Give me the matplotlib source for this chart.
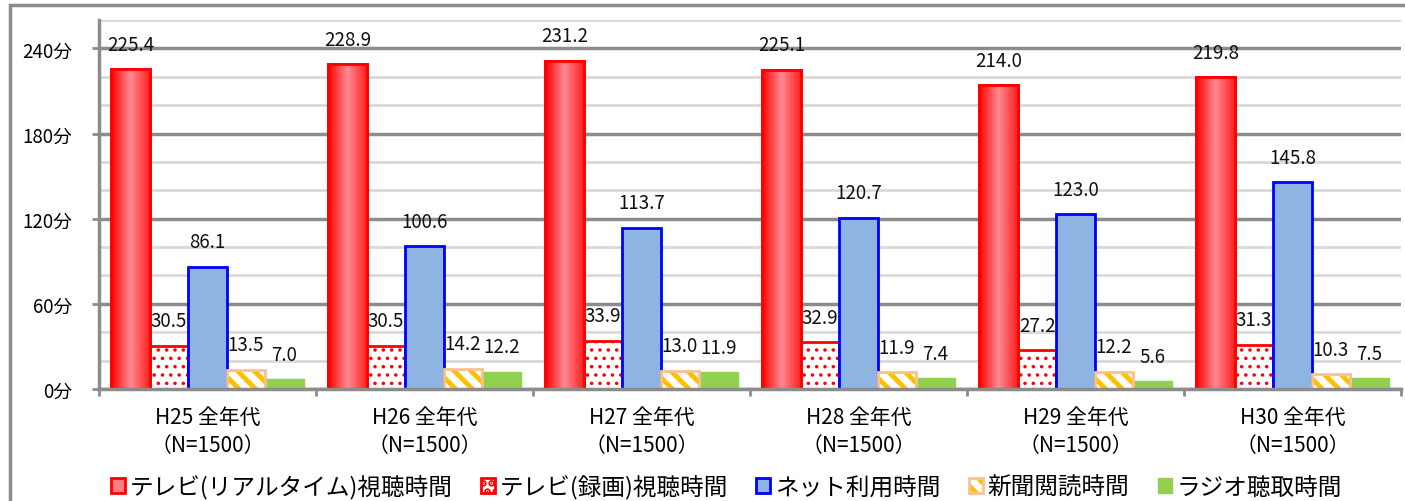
import numpy as np
import matplotlib
matplotlib.use("Agg")
import matplotlib.pyplot as plt
from matplotlib.patches import Patch, Rectangle
from matplotlib.colors import LinearSegmentedColormap
from matplotlib.legend_handler import HandlerTuple

plt.rcParams["font.family"] = ["Noto Sans CJK JP", "DejaVu Sans"]
plt.rcParams["hatch.linewidth"] = 3.5

groups = ["H25 全年代", "H26 全年代", "H27 全年代", "H28 全年代", "H29 全年代", "H30 全年代"]
sample = "（N=1500）"
tv_real = [225.4, 228.9, 231.2, 225.1, 214.0, 219.8]
tv_rec = [30.5, 30.5, 33.9, 32.9, 27.2, 31.3]
net = [86.1, 100.6, 113.7, 120.7, 123.0, 145.8]
news = [13.5, 14.2, 13.0, 11.9, 12.2, 10.3]
radio = [7.0, 12.2, 11.9, 7.4, 5.6, 7.5]
series_names = ["テレビ(リアルタイム)視聴時間", "テレビ(録画)視聴時間", "ネット利用時間",
                "新聞閲読時間", "ラジオ聴取時間"]

gray = "#8C8C8C"
fig = plt.figure(figsize=(14.05, 5.02), dpi=100)
ax = fig.add_axes([99 / 1405, 1 - 390 / 502, (1401 - 99) / 1405, (390 - 21) / 502])

x = np.arange(len(groups))
w = 0.177

# bars
b_real = ax.bar(x - 2 * w, tv_real, w, facecolor="#FF7C80", edgecolor="#FF0000", lw=2, zorder=3)
with plt.rc_context({"hatch.linewidth": 1.3}):
    b_rec = ax.bar(x - w, tv_rec, w, facecolor="white", edgecolor="#FF0000", hatch="..", lw=2, zorder=3)
    rec_handle = Patch(facecolor="white", edgecolor="#FF0000", hatch="..", lw=2)
b_net = ax.bar(x, net, w, facecolor="#8EB4E3", edgecolor="#0000FF", lw=2, zorder=3)
b_news = ax.bar(x + w, news, w, facecolor="white", edgecolor="#FFC000", hatch="\\\\", lw=0, zorder=3)
ax.bar(x + w, news, w, fill=False, edgecolor="#FAC090", lw=2, zorder=4)
b_radio = ax.bar(x + 2 * w, radio, w, facecolor="#92D050", edgecolor="#92D050", lw=1, zorder=3)

# gradient on red bars
cmap = LinearSegmentedColormap.from_list("tvred", ["#FF0000", "#FF8A93", "#FF2020"])
grad = np.linspace(0, 1, 100).reshape(1, -1)
for p in b_real:
    im = ax.imshow(grad, cmap=cmap, aspect="auto", zorder=3.5,
                   extent=(p.get_x(), p.get_x() + p.get_width(), 0, p.get_height()))
    im.set_clip_path(p)
    ax.add_patch(Rectangle((p.get_x(), 0), p.get_width(), p.get_height(),
                           fill=False, edgecolor="#FF0000", lw=2, zorder=4))

# value labels
for bars in [b_real, b_rec, b_net, b_news, b_radio]:
    for p in bars:
        ax.annotate(f"{p.get_height():.1f}", (p.get_x() + p.get_width() / 2, p.get_height()),
                    xytext=(0, 14), textcoords="offset points", ha="center", va="baseline",
                    fontsize=13.5, color="#111111", zorder=6)

ax.set_xlim(-0.5, len(groups) - 0.5)
ax.set_ylim(0, 260)

ax.set_yticks(range(0, 241, 60))
ax.set_yticklabels([f"{v}分" for v in range(0, 241, 60)], fontsize=13.5)
ax.set_yticks(range(0, 261, 20), minor=True)
ax.tick_params(axis="y", which="major", length=5, width=2, color=gray, pad=14)
ax.tick_params(axis="y", which="minor", length=0)
ax.grid(axis="y", which="minor", color="#D9D9D9", lw=2, zorder=0)
ax.grid(axis="y", which="major", color=gray, lw=2.5, zorder=1)

ax.set_xticks(x)
ax.set_xticklabels([f"{g}\n{sample}" for g in groups], fontsize=15, linespacing=1.4)
ax.set_xticks(np.arange(-0.5, len(groups)), minor=True)
ax.tick_params(axis="x", which="major", length=0, pad=12)
ax.tick_params(axis="x", which="minor", length=5, width=2, color=gray)

for s in ["top", "right"]:
    ax.spines[s].set_visible(False)
for s in ["left", "bottom"]:
    ax.spines[s].set_color(gray)
    ax.spines[s].set_linewidth(2.5)
ax.spines["bottom"].set_zorder(5)

# legend
handles = [
    Patch(facecolor="#FF7C80", edgecolor="#FF0000", lw=2),
    rec_handle,
    Patch(facecolor="#8EB4E3", edgecolor="#0000FF", lw=2),
    (Patch(facecolor="white", edgecolor="#FFC000", hatch="\\\\", lw=0),
     Patch(fill=False, edgecolor="#FAC090", lw=2)),
    Patch(facecolor="#92D050", edgecolor="#92D050"),
]
fig.legend(handles, series_names, loc="center", bbox_to_anchor=(0.517, 0.028), ncol=5,
           frameon=False, fontsize=17, handlelength=0.6, handleheight=0.6,
           handletextpad=0.2, columnspacing=1.2,
           handler_map={tuple: HandlerTuple(ndivide=1, pad=0)})

# outer frame
fig.add_artist(Rectangle((10 / 1405, -0.1), 1.2, 1.1 - 6 / 502, transform=fig.transFigure,
                         fill=False, edgecolor=gray, lw=2.5))

fig.savefig("out.png", dpi=100)
